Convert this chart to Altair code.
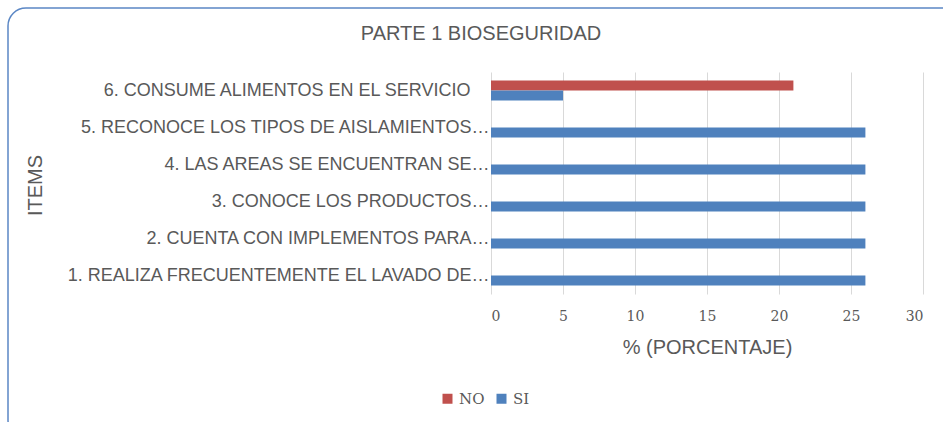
import altair as alt
import pandas as pd

# ---- data ----
items = [
    "1. REALIZA FRECUENTEMENTE EL LAVADO DE…",
    "2. CUENTA CON IMPLEMENTOS PARA…",
    "3. CONOCE LOS PRODUCTOS…",
    "4. LAS AREAS SE ENCUENTRAN SE…",
    "5. RECONOCE LOS TIPOS DE AISLAMIENTOS…",
    "6. CONSUME ALIMENTOS EN EL SERVICIO",
]
no_vals = [0, 0, 0, 0, 0, 21]
si_vals = [26, 26, 26, 26, 26, 5]
series = ["NO", "SI"]
colors = ["#C0504D", "#4F81BD"]
x_ticks = [0, 5, 10, 15, 20, 25, 30]

rows = []
for it, n, s in zip(items, no_vals, si_vals):
    rows.append({"item": it, "serie": "NO", "valor": n})
    rows.append({"item": it, "serie": "SI", "valor": s})
df = pd.DataFrame(rows)

TXT = "#595959"
SANS = "Liberation Sans"
SERIF = "DejaVu Serif"

label_pad = {
    "condition": {"test": "datum.value == '6. CONSUME ALIMENTOS EN EL SERVICIO'", "value": 21},
    "value": 2,
}

bars = alt.Chart(df).mark_bar().encode(
    x=alt.X(
        "valor:Q",
        scale=alt.Scale(domain=[0, 30], nice=False),
        axis=alt.Axis(
            values=x_ticks, title="% (PORCENTAJE)", grid=True, gridColor="#D9D9D9",
            gridWidth=1, domain=False, ticks=False, labelFont=SERIF, labelFontSize=14,
            labelColor=TXT, labelPadding=15, titleFont=SANS, titleFontSize=20,
            titleFontWeight="normal", titleColor=TXT, titlePadding=14,
        ),
    ),
    y=alt.Y(
        "item:N",
        sort=items[::-1],
        scale=alt.Scale(paddingInner=0.46, paddingOuter=0.23),
        axis=alt.Axis(
            title="ITEMS", domain=False, ticks=False, labelFont=SANS, labelFontSize=18,
            labelColor=TXT, labelPadding=label_pad, labelLimit=600,
            titleFont=SANS, titleFontSize=20, titleFontWeight="normal", titleColor=TXT,
            titleX=-456, titleY=113, titleAngle=270, titleBaseline="middle",
            titleAlign="center",
        ),
    ),
    yOffset=alt.YOffset("serie:N", sort=series, scale=alt.Scale(paddingInner=0, paddingOuter=0)),
    color=alt.Color(
        "serie:N",
        scale=alt.Scale(domain=series, range=colors),
        legend=alt.Legend(
            title=None, orient="none", direction="horizontal", legendX=-51, legendY=319,
            symbolType="square", symbolSize=100, symbolStrokeWidth=0,
            labelFont=SERIF, labelFontSize=15, labelColor=TXT, columnPadding=9,
            labelOffset=4,
        ),
    ),
)

frame = alt.Chart(pd.DataFrame({"k": [0]})).mark_rect(
    fillOpacity=0, stroke="#5B87C5", strokeWidth=1.5, cornerRadius=18
).encode(
    x=alt.value(-483), x2=alt.value(470), y=alt.value(-64), y2=alt.value(366)
)

chart = alt.layer(frame, bars).properties(
    width=432,
    height=222,
    autosize=alt.AutoSizeParams(type="none"),
    padding={"left": 491, "top": 72, "right": 20, "bottom": 128},
    title=alt.Title(
        "PARTE 1 BIOSEGURIDAD", font=SANS, fontSize=20, fontWeight="normal",
        color=TXT, anchor="middle", frame="group", dx=-226, offset=-37,
    ),
).configure_view(stroke=None)

chart.save("out.html", embed_options={"renderer": "svg", "actions": False})
